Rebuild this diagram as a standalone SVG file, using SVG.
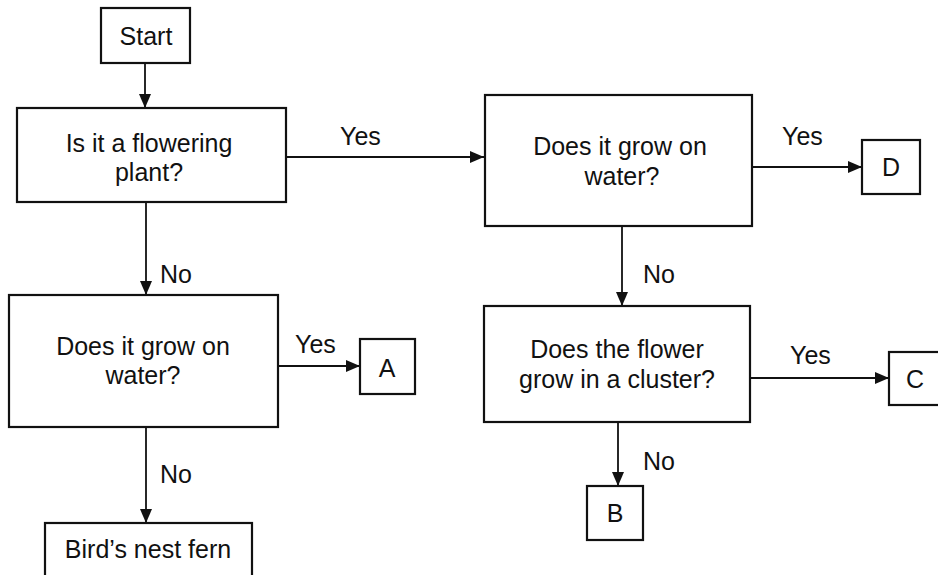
<svg xmlns="http://www.w3.org/2000/svg" width="938" height="575" viewBox="0 0 938 575">
<style>
.box{fill:#fff;stroke:#111;stroke-width:2.2}
.t{font-family:"Liberation Sans",Arial,sans-serif;font-size:25px;fill:#111;text-anchor:middle}
.l{font-family:"Liberation Sans",Arial,sans-serif;font-size:25px;fill:#111}
.c{stroke:#111;stroke-width:1.8;fill:none;marker-end:url(#ah)}
</style>
<defs>
<marker id="ah" markerUnits="userSpaceOnUse" markerWidth="14" markerHeight="12" refX="14" refY="6" orient="auto">
<path d="M0,0 L14,6 L0,12 Z" fill="#111"/>
</marker>
</defs>
<rect width="938" height="575" fill="#fff"/>
<g id="connectors">
<line class="c" x1="145" y1="63" x2="145" y2="108"/>
<line class="c" x1="286" y1="157" x2="484" y2="157"/>
<line class="c" x1="752" y1="167" x2="862" y2="167"/>
<line class="c" x1="622" y1="226" x2="622" y2="306"/>
<line class="c" x1="750" y1="378" x2="889" y2="378"/>
<line class="c" x1="618" y1="422" x2="618" y2="486"/>
<line class="c" x1="146" y1="202" x2="146" y2="295"/>
<line class="c" x1="278" y1="366" x2="360" y2="366"/>
<line class="c" x1="146" y1="427" x2="146" y2="523"/>
<text class="l" x="340" y="145">Yes</text>
<text class="l" x="782" y="145">Yes</text>
<text class="l" x="643" y="283">No</text>
<text class="l" x="790" y="364">Yes</text>
<text class="l" x="643" y="470">No</text>
<text class="l" x="160" y="283">No</text>
<text class="l" x="295" y="353">Yes</text>
<text class="l" x="160" y="483">No</text>
</g>
<g id="start">
<rect class="box" x="101" y="8" width="89" height="55"/>
<text class="t" x="146" y="45">Start</text>
</g>
<g id="flowering">
<rect class="box" x="17" y="108" width="269" height="94"/>
<text class="t" x="149" y="152">Is it a flowering</text>
<text class="t" x="149" y="181">plant?</text>
</g>
<g id="water-right">
<rect class="box" x="485" y="95" width="267" height="131"/>
<text class="t" x="620" y="155">Does it grow on</text>
<text class="t" x="622" y="185">water?</text>
</g>
<g id="D">
<rect class="box" x="862" y="140" width="58" height="54"/>
<text class="t" x="891" y="176">D</text>
</g>
<g id="cluster">
<rect class="box" x="484" y="306" width="266" height="116"/>
<text class="t" x="617" y="358">Does the flower</text>
<text class="t" x="617" y="388">grow in a cluster?</text>
</g>
<g id="C">
<rect class="box" x="889" y="352" width="60" height="53"/>
<text class="t" x="915" y="388">C</text>
</g>
<g id="B">
<rect class="box" x="587" y="486" width="56" height="54"/>
<text class="t" x="615" y="522">B</text>
</g>
<g id="water-left">
<rect class="box" x="9" y="295" width="269" height="132"/>
<text class="t" x="143" y="355">Does it grow on</text>
<text class="t" x="143" y="384">water?</text>
</g>
<g id="A">
<rect class="box" x="360" y="339" width="55" height="55"/>
<text class="t" x="387" y="377">A</text>
</g>
<g id="fern">
<rect class="box" x="45" y="523" width="207" height="60"/>
<text class="t" x="148" y="558">Bird’s nest fern</text>
</g>
</svg>
